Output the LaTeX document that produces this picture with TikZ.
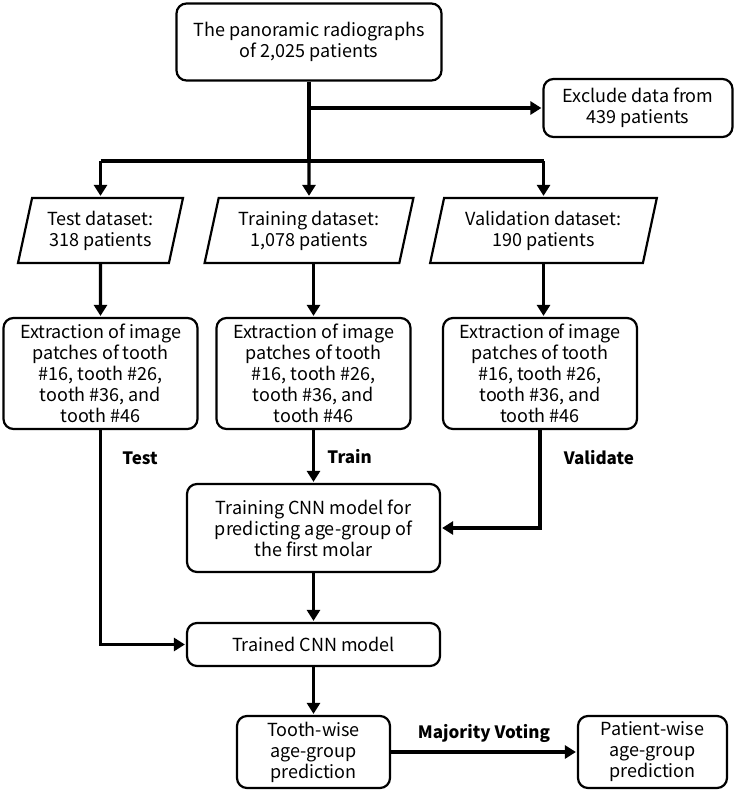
\documentclass[tikz,border=0pt]{standalone}
\usepackage{fontspec}
\setmainfont{Noto Sans CJK KR}
\usetikzlibrary{arrows.meta,shapes.geometric,positioning}
\tikzset{
    box/.style={draw, line width=2.2pt, rounded corners=10pt, align=center, inner sep=2pt, font=\fontsize{18}{21}\selectfont},
    databox/.style={draw, line width=2.2pt, trapezium, trapezium left angle=75, trapezium right angle=105, trapezium stretches=true, align=center, minimum height=65pt, inner sep=1pt, font=\fontsize{18}{21}\selectfont},
    flow/.style={line width=3.2pt, -{Triangle[length=11pt,width=13pt]}, shorten >=1pt},
    link/.style={line width=3.2pt},
    lbl/.style={font=\bfseries\fontsize{17}{21}\selectfont},
}

\begin{document}
\begin{tikzpicture}[x=1pt,y=-1pt]
    \useasboundingbox (0,0) rectangle (734,791);
    \node[box, minimum width=265pt, minimum height=77pt] (radio) at (309,42) {The panoramic radiographs\\of 2,025 patients};
    \node[box, minimum width=189pt, minimum height=58pt] (exclude) at (638,108) {Exclude data from\\439 patients};
    \node[databox, minimum width=165pt] (testset) at (100.5,230.5) {Test dataset:\\318 patients};
    \node[databox, minimum width=209pt] (trainset) at (309,230.5) {Training dataset:\\1,078 patients};
    \node[databox, minimum width=227pt] (validset) at (543.5,230.5) {Validation dataset:\\190 patients};
    \node[box, minimum width=194pt, minimum height=111pt] (ext1) at (100.5,373.5) {Extraction of image\\patches of tooth\\\#16, tooth \#26,\\tooth \#36, and\\tooth \#46};
    \node[box, minimum width=194pt, minimum height=111pt] (ext2) at (313.5,373.5) {Extraction of image\\patches of tooth\\\#16, tooth \#26,\\tooth \#36, and\\tooth \#46};
    \node[box, minimum width=194pt, minimum height=111pt] (ext3) at (540,373.5) {Extraction of image\\patches of tooth\\\#16, tooth \#26,\\tooth \#36, and\\tooth \#46};
    \node[box, minimum width=253pt, minimum height=88pt] (trainmod) at (313.5,528) {Training CNN model for\\predicting age-group of\\the first molar};
    \node[box, minimum width=253pt, minimum height=43pt] (trained) at (313.5,644.5) {Trained CNN model};
    \node[box, minimum width=153pt, minimum height=72pt] (toothwise) at (313.5,752) {Tooth-wise\\age-group\\prediction};
    \node[box, minimum width=149pt, minimum height=72pt] (patientwise) at (652.5,752) {Patient-wise\\age-group\\prediction};

    \coordinate (split) at (radio.south |- 0,161);
    \draw[link] (radio.south) -- (split);
    \draw[flow] (radio.south |- exclude.west) -- (exclude.west);
    \draw[link] (testset.north |- split) -- (validset.north |- split);
    \draw[flow] (testset.north |- split) -- (testset.north);
    \draw[flow] (split) -- (trainset.north);
    \draw[flow] (validset.north |- split) -- (validset.north);

    \draw[flow] (testset.south) -- (ext1.north);
    \draw[flow] (trainset.south -| ext2.north) -- (ext2.north);
    \draw[flow] (validset.south) -- (validset.south |- ext3.north);

    \draw[flow] (ext1.south) -- node[lbl, pos=0.13, right=17pt] (testlbl) {Test} (ext1.south |- trained.west) -- (trained.west);
    \draw[flow] (ext2.south) -- node[lbl, right=9pt] (trainlbl) {Train} (trainmod.north);
    \draw[flow] (ext3.south) -- node[lbl, pos=0.28, right=19pt] (vallbl) {Validate} (ext3.south |- trainmod.east) -- (trainmod.east);

    \draw[flow] (trainmod.south) -- (trained.north);
    \draw[flow] (trained.south) -- (toothwise.north);
    \draw[flow] (toothwise.east) -- node[lbl, above=5pt] (votelbl) {Majority Voting} (patientwise.west);
\end{tikzpicture}
\end{document}
